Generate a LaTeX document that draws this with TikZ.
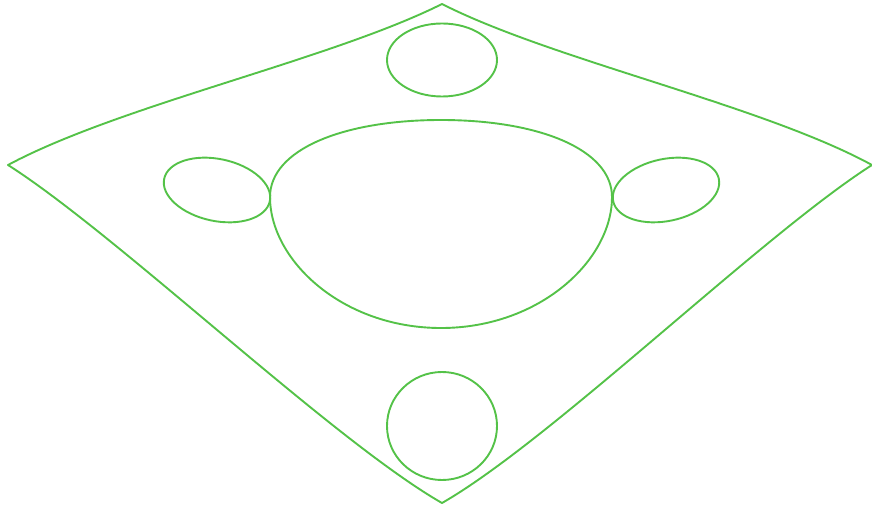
\documentclass[tikz,border=0pt]{standalone}
\usepackage{tikz}
\usetikzlibrary{calc}
\definecolor{leafgreen}{RGB}{84,194,72}

\begin{document}
\begin{tikzpicture}[x=1pt,y=-1pt,outline/.style={leafgreen,line width=1.9pt,line join=round}]
  \useasboundingbox (0,0) rectangle (872,510);
  % outer curved diamond
  \draw[outline] (8,165) .. controls (120,105) and (330,60) .. (442,4)
    .. controls (552,60) and (762,105) .. (872,165)
    .. controls (762,235) and (552,440) .. (442,503)
    .. controls (332,440) and (118,235) .. cycle;
  % central blob
  \draw[outline] (441,120) .. controls (540,120) and (612,150) .. (612,197)
    .. controls (612,260) and (540,328) .. (441,328)
    .. controls (342,328) and (270,260) .. (270,197)
    .. controls (270,150) and (342,120) .. cycle;
  % side lobes
  \draw[outline,rotate around={-12:(217,190)}] (217,190) ellipse (54 and 31);
  \draw[outline,rotate around={12:(666,190)}] (666,190) ellipse (54 and 31);
  % top and bottom lobes
  \draw[outline] (442,60) ellipse (55 and 36.5);
  \draw[outline] (442,426) ellipse (55 and 54);
\end{tikzpicture}
\end{document}
